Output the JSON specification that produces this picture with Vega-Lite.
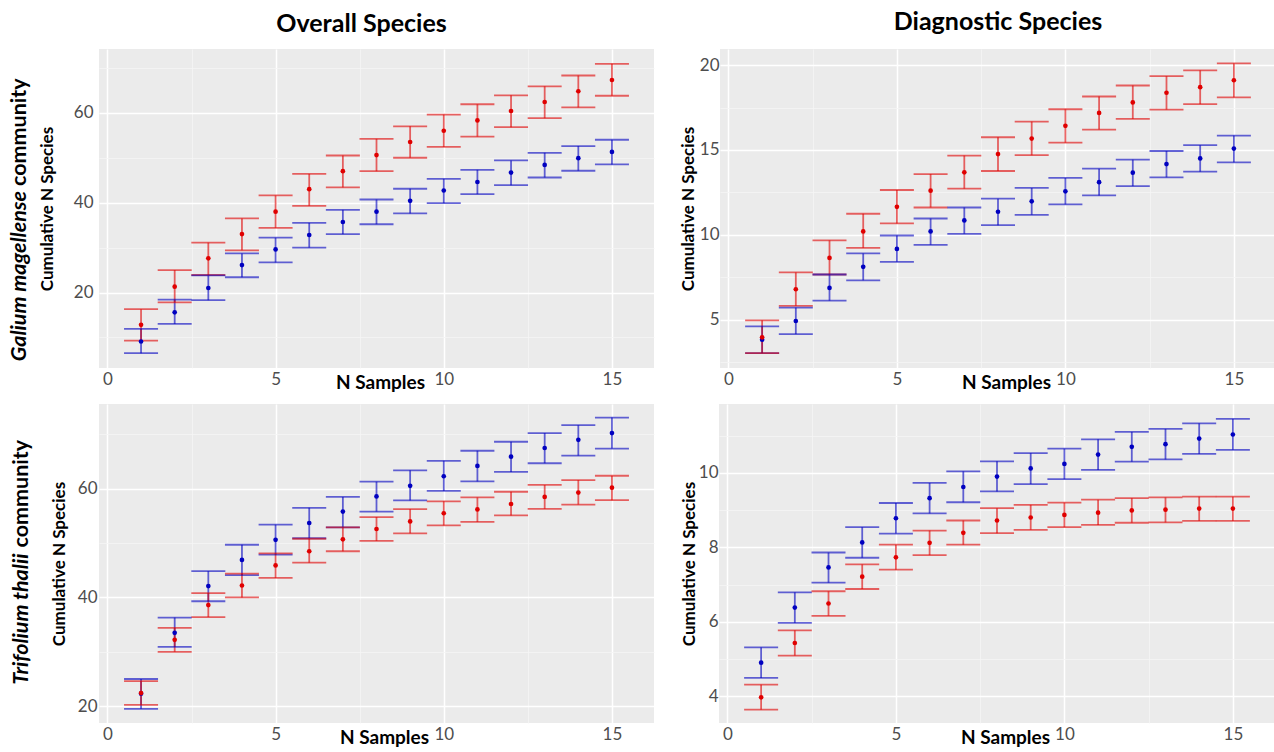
{
  "$schema": "https://vega.github.io/schema/vega-lite/v6.json",
  "padding": {"left": 8, "top": 10, "right": 0, "bottom": 0},
  "background": "white",
  "config": {
    "view": {"fill": "#ebebeb", "stroke": null},
    "font": "Lato",
    "axis": {"domain": false, "ticks": false, "labelFont": "Lato", "labelFontSize": 17, "labelColor": "#4d4d4d", "titleFont": "Lato", "titleFontWeight": "bold", "titleColor": "#000000", "labelFlush": false, "labelOverlap": false},
    "axisX": {"titleFontSize": 19},
    "axisY": {"titleFontSize": 17},
    "title": {"font": "Lato", "fontSize": 25, "fontWeight": "bold", "color": "#000000"}
  },
  "data": {"values": [
    {"panel":"GO","series":"blue","n":1,"mean":9.1,"lo":6.5,"hi":11.9},
    {"panel":"GO","series":"blue","n":2,"mean":15.6,"lo":13.0,"hi":18.4},
    {"panel":"GO","series":"blue","n":3,"mean":21.0,"lo":18.3,"hi":23.8},
    {"panel":"GO","series":"blue","n":4,"mean":26.1,"lo":23.4,"hi":28.7},
    {"panel":"GO","series":"blue","n":5,"mean":29.6,"lo":26.7,"hi":32.2},
    {"panel":"GO","series":"blue","n":6,"mean":32.8,"lo":30.0,"hi":35.5},
    {"panel":"GO","series":"blue","n":7,"mean":35.7,"lo":33.0,"hi":38.4},
    {"panel":"GO","series":"blue","n":8,"mean":38.0,"lo":35.2,"hi":40.7},
    {"panel":"GO","series":"blue","n":9,"mean":40.4,"lo":37.6,"hi":43.1},
    {"panel":"GO","series":"blue","n":10,"mean":42.7,"lo":39.9,"hi":45.3},
    {"panel":"GO","series":"blue","n":11,"mean":44.6,"lo":41.9,"hi":47.3},
    {"panel":"GO","series":"blue","n":12,"mean":46.7,"lo":43.9,"hi":49.4},
    {"panel":"GO","series":"blue","n":13,"mean":48.4,"lo":45.6,"hi":51.1},
    {"panel":"GO","series":"blue","n":14,"mean":49.9,"lo":47.1,"hi":52.6},
    {"panel":"GO","series":"blue","n":15,"mean":51.3,"lo":48.5,"hi":54.0},
    {"panel":"GO","series":"red","n":1,"mean":12.8,"lo":9.3,"hi":16.3},
    {"panel":"GO","series":"red","n":2,"mean":21.3,"lo":17.8,"hi":25.0},
    {"panel":"GO","series":"red","n":3,"mean":27.6,"lo":23.9,"hi":31.1},
    {"panel":"GO","series":"red","n":4,"mean":33.0,"lo":29.4,"hi":36.5},
    {"panel":"GO","series":"red","n":5,"mean":38.0,"lo":34.4,"hi":41.6},
    {"panel":"GO","series":"red","n":6,"mean":43.0,"lo":39.3,"hi":46.4},
    {"panel":"GO","series":"red","n":7,"mean":47.0,"lo":43.4,"hi":50.5},
    {"panel":"GO","series":"red","n":8,"mean":50.6,"lo":47.0,"hi":54.2},
    {"panel":"GO","series":"red","n":9,"mean":53.5,"lo":50.0,"hi":57.0},
    {"panel":"GO","series":"red","n":10,"mean":56.0,"lo":52.4,"hi":59.6},
    {"panel":"GO","series":"red","n":11,"mean":58.3,"lo":54.7,"hi":61.9},
    {"panel":"GO","series":"red","n":12,"mean":60.4,"lo":56.8,"hi":63.9},
    {"panel":"GO","series":"red","n":13,"mean":62.4,"lo":58.8,"hi":65.9},
    {"panel":"GO","series":"red","n":14,"mean":64.8,"lo":61.2,"hi":68.3},
    {"panel":"GO","series":"red","n":15,"mean":67.3,"lo":63.8,"hi":70.9},
    {"panel":"GD","series":"blue","n":1,"mean":3.82,"lo":3.03,"hi":4.6},
    {"panel":"GD","series":"blue","n":2,"mean":4.92,"lo":4.15,"hi":5.71},
    {"panel":"GD","series":"blue","n":3,"mean":6.87,"lo":6.12,"hi":7.66},
    {"panel":"GD","series":"blue","n":4,"mean":8.11,"lo":7.32,"hi":8.9},
    {"panel":"GD","series":"blue","n":5,"mean":9.17,"lo":8.41,"hi":9.96},
    {"panel":"GD","series":"blue","n":6,"mean":10.2,"lo":9.41,"hi":10.96},
    {"panel":"GD","series":"blue","n":7,"mean":10.85,"lo":10.06,"hi":11.61},
    {"panel":"GD","series":"blue","n":8,"mean":11.36,"lo":10.57,"hi":12.13},
    {"panel":"GD","series":"blue","n":9,"mean":11.97,"lo":11.18,"hi":12.76},
    {"panel":"GD","series":"blue","n":10,"mean":12.56,"lo":11.79,"hi":13.35},
    {"panel":"GD","series":"blue","n":11,"mean":13.1,"lo":12.32,"hi":13.9},
    {"panel":"GD","series":"blue","n":12,"mean":13.66,"lo":12.87,"hi":14.43},
    {"panel":"GD","series":"blue","n":13,"mean":14.17,"lo":13.39,"hi":14.94},
    {"panel":"GD","series":"blue","n":14,"mean":14.5,"lo":13.72,"hi":15.28},
    {"panel":"GD","series":"blue","n":15,"mean":15.08,"lo":14.27,"hi":15.85},
    {"panel":"GD","series":"red","n":1,"mean":3.96,"lo":3.03,"hi":4.96},
    {"panel":"GD","series":"red","n":2,"mean":6.79,"lo":5.81,"hi":7.78},
    {"panel":"GD","series":"red","n":3,"mean":8.64,"lo":7.66,"hi":9.67},
    {"panel":"GD","series":"red","n":4,"mean":10.2,"lo":9.23,"hi":11.24},
    {"panel":"GD","series":"red","n":5,"mean":11.65,"lo":10.67,"hi":12.64},
    {"panel":"GD","series":"red","n":6,"mean":12.6,"lo":11.61,"hi":13.58},
    {"panel":"GD","series":"red","n":7,"mean":13.68,"lo":12.72,"hi":14.67},
    {"panel":"GD","series":"red","n":8,"mean":14.76,"lo":13.76,"hi":15.75},
    {"panel":"GD","series":"red","n":9,"mean":15.67,"lo":14.69,"hi":16.67},
    {"panel":"GD","series":"red","n":10,"mean":16.42,"lo":15.43,"hi":17.4},
    {"panel":"GD","series":"red","n":11,"mean":17.18,"lo":16.2,"hi":18.15},
    {"panel":"GD","series":"red","n":12,"mean":17.8,"lo":16.83,"hi":18.8},
    {"panel":"GD","series":"red","n":13,"mean":18.37,"lo":17.38,"hi":19.35},
    {"panel":"GD","series":"red","n":14,"mean":18.7,"lo":17.7,"hi":19.69},
    {"panel":"GD","series":"red","n":15,"mean":19.11,"lo":18.1,"hi":20.1},
    {"panel":"TO","series":"blue","n":1,"mean":22.3,"lo":19.5,"hi":25.0},
    {"panel":"TO","series":"blue","n":2,"mean":33.5,"lo":30.9,"hi":36.3},
    {"panel":"TO","series":"blue","n":3,"mean":42.1,"lo":39.3,"hi":44.85},
    {"panel":"TO","series":"blue","n":4,"mean":46.9,"lo":44.1,"hi":49.7},
    {"panel":"TO","series":"blue","n":5,"mean":50.6,"lo":47.9,"hi":53.4},
    {"panel":"TO","series":"blue","n":6,"mean":53.7,"lo":50.9,"hi":56.5},
    {"panel":"TO","series":"blue","n":7,"mean":55.8,"lo":52.9,"hi":58.5},
    {"panel":"TO","series":"blue","n":8,"mean":58.6,"lo":55.8,"hi":61.3},
    {"panel":"TO","series":"blue","n":9,"mean":60.55,"lo":57.85,"hi":63.4},
    {"panel":"TO","series":"blue","n":10,"mean":62.3,"lo":59.6,"hi":65.15},
    {"panel":"TO","series":"blue","n":11,"mean":64.2,"lo":61.35,"hi":67.0},
    {"panel":"TO","series":"blue","n":12,"mean":65.9,"lo":63.1,"hi":68.65},
    {"panel":"TO","series":"blue","n":13,"mean":67.5,"lo":64.7,"hi":70.25},
    {"panel":"TO","series":"blue","n":14,"mean":69.0,"lo":66.1,"hi":71.7},
    {"panel":"TO","series":"blue","n":15,"mean":70.25,"lo":67.4,"hi":73.1},
    {"panel":"TO","series":"red","n":1,"mean":22.4,"lo":20.25,"hi":24.6},
    {"panel":"TO","series":"red","n":2,"mean":32.2,"lo":30.0,"hi":34.4},
    {"panel":"TO","series":"red","n":3,"mean":38.6,"lo":36.4,"hi":40.8},
    {"panel":"TO","series":"red","n":4,"mean":42.2,"lo":40.0,"hi":44.4},
    {"panel":"TO","series":"red","n":5,"mean":45.9,"lo":43.6,"hi":48.1},
    {"panel":"TO","series":"red","n":6,"mean":48.5,"lo":46.4,"hi":50.8},
    {"panel":"TO","series":"red","n":7,"mean":50.7,"lo":48.5,"hi":52.9},
    {"panel":"TO","series":"red","n":8,"mean":52.6,"lo":50.4,"hi":54.8},
    {"panel":"TO","series":"red","n":9,"mean":54.0,"lo":51.8,"hi":56.25},
    {"panel":"TO","series":"red","n":10,"mean":55.5,"lo":53.25,"hi":57.7},
    {"panel":"TO","series":"red","n":11,"mean":56.2,"lo":53.9,"hi":58.4},
    {"panel":"TO","series":"red","n":12,"mean":57.2,"lo":55.1,"hi":59.45},
    {"panel":"TO","series":"red","n":13,"mean":58.5,"lo":56.3,"hi":60.7},
    {"panel":"TO","series":"red","n":14,"mean":59.3,"lo":57.1,"hi":61.6},
    {"panel":"TO","series":"red","n":15,"mean":60.2,"lo":57.9,"hi":62.4},
    {"panel":"TD","series":"blue","n":1,"mean":4.9,"lo":4.49,"hi":5.31},
    {"panel":"TD","series":"blue","n":2,"mean":6.38,"lo":5.97,"hi":6.79},
    {"panel":"TD","series":"blue","n":3,"mean":7.46,"lo":7.05,"hi":7.86},
    {"panel":"TD","series":"blue","n":4,"mean":8.13,"lo":7.72,"hi":8.54},
    {"panel":"TD","series":"blue","n":5,"mean":8.78,"lo":8.37,"hi":9.19},
    {"panel":"TD","series":"blue","n":6,"mean":9.32,"lo":8.91,"hi":9.73},
    {"panel":"TD","series":"blue","n":7,"mean":9.62,"lo":9.21,"hi":10.04},
    {"panel":"TD","series":"blue","n":8,"mean":9.9,"lo":9.5,"hi":10.31},
    {"panel":"TD","series":"blue","n":9,"mean":10.12,"lo":9.7,"hi":10.53},
    {"panel":"TD","series":"blue","n":10,"mean":10.24,"lo":9.83,"hi":10.65},
    {"panel":"TD","series":"blue","n":11,"mean":10.49,"lo":10.08,"hi":10.9},
    {"panel":"TD","series":"blue","n":12,"mean":10.7,"lo":10.3,"hi":11.1},
    {"panel":"TD","series":"blue","n":13,"mean":10.77,"lo":10.36,"hi":11.18},
    {"panel":"TD","series":"blue","n":14,"mean":10.92,"lo":10.51,"hi":11.33},
    {"panel":"TD","series":"blue","n":15,"mean":11.03,"lo":10.62,"hi":11.45},
    {"panel":"TD","series":"red","n":1,"mean":3.97,"lo":3.64,"hi":4.31},
    {"panel":"TD","series":"red","n":2,"mean":5.43,"lo":5.09,"hi":5.77},
    {"panel":"TD","series":"red","n":3,"mean":6.49,"lo":6.16,"hi":6.82},
    {"panel":"TD","series":"red","n":4,"mean":7.21,"lo":6.88,"hi":7.54},
    {"panel":"TD","series":"red","n":5,"mean":7.73,"lo":7.4,"hi":8.07},
    {"panel":"TD","series":"red","n":6,"mean":8.12,"lo":7.79,"hi":8.45},
    {"panel":"TD","series":"red","n":7,"mean":8.39,"lo":8.07,"hi":8.72},
    {"panel":"TD","series":"red","n":8,"mean":8.72,"lo":8.38,"hi":9.05},
    {"panel":"TD","series":"red","n":9,"mean":8.8,"lo":8.47,"hi":9.14},
    {"panel":"TD","series":"red","n":10,"mean":8.87,"lo":8.54,"hi":9.2},
    {"panel":"TD","series":"red","n":11,"mean":8.93,"lo":8.6,"hi":9.28},
    {"panel":"TD","series":"red","n":12,"mean":8.99,"lo":8.66,"hi":9.32},
    {"panel":"TD","series":"red","n":13,"mean":9.01,"lo":8.67,"hi":9.34},
    {"panel":"TD","series":"red","n":14,"mean":9.04,"lo":8.71,"hi":9.36},
    {"panel":"TD","series":"red","n":15,"mean":9.04,"lo":8.71,"hi":9.36}
  ]},
  "spacing": 12,
  "vconcat": [
    {
      "title": {"text": "community", "orient": "left", "anchor": "middle", "align": "left", "fontSize": 21.5, "fontWeight": "bold", "fontStyle": "normal", "offset": -21.5, "dx": 15},
      "hconcat": [
        {
          "title": {"text": "Galium magellense", "orient": "left", "anchor": "middle", "align": "right", "fontSize": 21.5, "fontWeight": "bold", "fontStyle": "italic", "offset": 8, "dx": 10},
          "spacing": 25,
          "hconcat": [
            {
              "width": 555, "height": 319,
              "title": {"text": "Overall Species", "offset": 12, "dx": -15},
              "transform": [{"filter": "datum.panel === 'GO'"}],
              "encoding": {
                "x": {"field": "n", "type": "quantitative", "scale": {"domain": [-0.25, 16.25], "nice": false, "zero": false},
                  "axis": {"title": "N Samples", "values": [0, 2.5, 5, 7.5, 10, 12.5, 15], "labelExpr": "datum.value % 5 === 0 ? datum.label : ''", "labelPadding": 3, "titlePadding": -14, "titleX": 281,
                    "gridColor": {"condition": {"test": "datum.value % 5 === 0", "value": "#ffffff"}, "value": "#f5f5f5"},
                    "gridWidth": {"condition": {"test": "datum.value % 5 === 0", "value": 1.5}, "value": 0.8}}},
                "color": {"field": "series", "type": "nominal", "scale": {"domain": ["red", "blue"], "range": ["#e00000", "#0000c0"]}, "legend": null}
              },
              "layer": [
                {"mark": {"type": "rule", "strokeWidth": 1.8, "opacity": 0.6},
                 "encoding": {"y": {"field": "lo", "type": "quantitative", "scale": {"domain": [3.2, 74.2], "nice": false, "zero": false},
                   "axis": {"title": "Cumulative N Species", "values": [10, 20, 30, 40, 50, 60, 70], "labelExpr": "datum.value % 20 === 0 ? datum.label : ''", "labelPadding": 6, "titlePadding": 17,
                    "gridColor": {"condition": {"test": "datum.value % 20 === 0", "value": "#ffffff"}, "value": "#f5f5f5"},
                    "gridWidth": {"condition": {"test": "datum.value % 20 === 0", "value": 1.5}, "value": 0.8}}},
                   "y2": {"field": "hi"}}},
                {"mark": {"type": "tick", "orient": "horizontal", "size": 34, "thickness": 1.8, "opacity": 0.6}, "encoding": {"y": {"field": "lo", "type": "quantitative"}}},
                {"mark": {"type": "tick", "orient": "horizontal", "size": 34, "thickness": 1.8, "opacity": 0.6}, "encoding": {"y": {"field": "hi", "type": "quantitative"}}},
                {"mark": {"type": "circle", "size": 22, "opacity": 1}, "encoding": {"y": {"field": "mean", "type": "quantitative"}}}
              ]
            },
            {
              "width": 556, "height": 319,
              "title": {"text": "Diagnostic Species", "offset": 14},
              "transform": [{"filter": "datum.panel === 'GD'"}],
              "encoding": {
                "x": {"field": "n", "type": "quantitative", "scale": {"domain": [-0.25, 16.25], "nice": false, "zero": false},
                  "axis": {"title": "N Samples", "values": [0, 2.5, 5, 7.5, 10, 12.5, 15], "labelExpr": "datum.value % 5 === 0 ? datum.label : ''", "labelPadding": 3, "titlePadding": -14, "titleX": 286,
                    "gridColor": {"condition": {"test": "datum.value % 5 === 0", "value": "#ffffff"}, "value": "#f5f5f5"},
                    "gridWidth": {"condition": {"test": "datum.value % 5 === 0", "value": 1.5}, "value": 0.8}}},
                "color": {"field": "series", "type": "nominal", "scale": {"domain": ["red", "blue"], "range": ["#e00000", "#0000c0"]}, "legend": null}
              },
              "layer": [
                {"mark": {"type": "rule", "strokeWidth": 1.8, "opacity": 0.6},
                 "encoding": {"y": {"field": "lo", "type": "quantitative", "scale": {"domain": [2.15, 20.95], "nice": false, "zero": false},
                   "axis": {"title": "Cumulative N Species", "values": [2.5, 5, 7.5, 10, 12.5, 15, 17.5, 20], "labelExpr": "datum.value % 5 === 0 ? datum.label : ''", "labelPadding": 1, "titlePadding": 2,
                    "gridColor": {"condition": {"test": "datum.value % 5 === 0", "value": "#ffffff"}, "value": "#f5f5f5"},
                    "gridWidth": {"condition": {"test": "datum.value % 5 === 0", "value": 1.5}, "value": 0.8}}},
                   "y2": {"field": "hi"}}},
                {"mark": {"type": "tick", "orient": "horizontal", "size": 34, "thickness": 1.8, "opacity": 0.6}, "encoding": {"y": {"field": "lo", "type": "quantitative"}}},
                {"mark": {"type": "tick", "orient": "horizontal", "size": 34, "thickness": 1.8, "opacity": 0.6}, "encoding": {"y": {"field": "hi", "type": "quantitative"}}},
                {"mark": {"type": "circle", "size": 22, "opacity": 1}, "encoding": {"y": {"field": "mean", "type": "quantitative"}}}
              ]
            }
          ]
        }
      ]
    },
    {
      "title": {"text": "community", "orient": "left", "anchor": "middle", "align": "left", "fontSize": 21.5, "fontWeight": "bold", "fontStyle": "normal", "offset": -21.5, "dx": 28},
      "hconcat": [
        {
          "title": {"text": "Trifolium thalii", "orient": "left", "anchor": "middle", "align": "right", "fontSize": 21.5, "fontWeight": "bold", "fontStyle": "italic", "offset": 18, "dx": 22},
          "spacing": 26,
          "hconcat": [
            {
              "width": 555, "height": 319,
              "transform": [{"filter": "datum.panel === 'TO'"}],
              "encoding": {
                "x": {"field": "n", "type": "quantitative", "scale": {"domain": [-0.25, 16.25], "nice": false, "zero": false},
                  "axis": {"title": "N Samples", "values": [0, 2.5, 5, 7.5, 10, 12.5, 15], "labelExpr": "datum.value % 5 === 0 ? datum.label : ''", "labelPadding": 3, "titlePadding": -14, "titleX": 285,
                    "gridColor": {"condition": {"test": "datum.value % 5 === 0", "value": "#ffffff"}, "value": "#f5f5f5"},
                    "gridWidth": {"condition": {"test": "datum.value % 5 === 0", "value": 1.5}, "value": 0.8}}},
                "color": {"field": "series", "type": "nominal", "scale": {"domain": ["red", "blue"], "range": ["#e00000", "#0000c0"]}, "legend": null}
              },
              "layer": [
                {"mark": {"type": "rule", "strokeWidth": 1.8, "opacity": 0.6},
                 "encoding": {"y": {"field": "lo", "type": "quantitative", "scale": {"domain": [16.9, 75.6], "nice": false, "zero": false},
                   "axis": {"title": "Cumulative N Species", "values": [20, 30, 40, 50, 60, 70], "labelExpr": "datum.value % 20 === 0 ? datum.label : ''", "labelPadding": 2, "titlePadding": 9,
                    "gridColor": {"condition": {"test": "datum.value % 20 === 0", "value": "#ffffff"}, "value": "#f5f5f5"},
                    "gridWidth": {"condition": {"test": "datum.value % 20 === 0", "value": 1.5}, "value": 0.8}}},
                   "y2": {"field": "hi"}}},
                {"mark": {"type": "tick", "orient": "horizontal", "size": 34, "thickness": 1.8, "opacity": 0.6}, "encoding": {"y": {"field": "lo", "type": "quantitative"}}},
                {"mark": {"type": "tick", "orient": "horizontal", "size": 34, "thickness": 1.8, "opacity": 0.6}, "encoding": {"y": {"field": "hi", "type": "quantitative"}}},
                {"mark": {"type": "circle", "size": 22, "opacity": 1}, "encoding": {"y": {"field": "mean", "type": "quantitative"}}}
              ]
            },
            {
              "width": 556, "height": 319,
              "transform": [{"filter": "datum.panel === 'TD'"}],
              "encoding": {
                "x": {"field": "n", "type": "quantitative", "scale": {"domain": [-0.25, 16.25], "nice": false, "zero": false},
                  "axis": {"title": "N Samples", "values": [0, 2.5, 5, 7.5, 10, 12.5, 15], "labelExpr": "datum.value % 5 === 0 ? datum.label : ''", "labelPadding": 3, "titlePadding": -14, "titleX": 286,
                    "gridColor": {"condition": {"test": "datum.value % 5 === 0", "value": "#ffffff"}, "value": "#f5f5f5"},
                    "gridWidth": {"condition": {"test": "datum.value % 5 === 0", "value": 1.5}, "value": 0.8}}},
                "color": {"field": "series", "type": "nominal", "scale": {"domain": ["red", "blue"], "range": ["#e00000", "#0000c0"]}, "legend": null}
              },
              "layer": [
                {"mark": {"type": "rule", "strokeWidth": 1.8, "opacity": 0.6},
                 "encoding": {"y": {"field": "lo", "type": "quantitative", "scale": {"domain": [3.28, 11.85], "nice": false, "zero": false},
                   "axis": {"title": "Cumulative N Species", "values": [3, 4, 5, 6, 7, 8, 9, 10, 11], "labelExpr": "datum.value % 2 === 0 ? datum.label : ''", "labelPadding": 1, "titlePadding": 0,
                    "gridColor": {"condition": {"test": "datum.value % 2 === 0", "value": "#ffffff"}, "value": "#f5f5f5"},
                    "gridWidth": {"condition": {"test": "datum.value % 2 === 0", "value": 1.5}, "value": 0.8}}},
                   "y2": {"field": "hi"}}},
                {"mark": {"type": "tick", "orient": "horizontal", "size": 34, "thickness": 1.8, "opacity": 0.6}, "encoding": {"y": {"field": "lo", "type": "quantitative"}}},
                {"mark": {"type": "tick", "orient": "horizontal", "size": 34, "thickness": 1.8, "opacity": 0.6}, "encoding": {"y": {"field": "hi", "type": "quantitative"}}},
                {"mark": {"type": "circle", "size": 22, "opacity": 1}, "encoding": {"y": {"field": "mean", "type": "quantitative"}}}
              ]
            }
          ]
        }
      ]
    }
  ]
}
